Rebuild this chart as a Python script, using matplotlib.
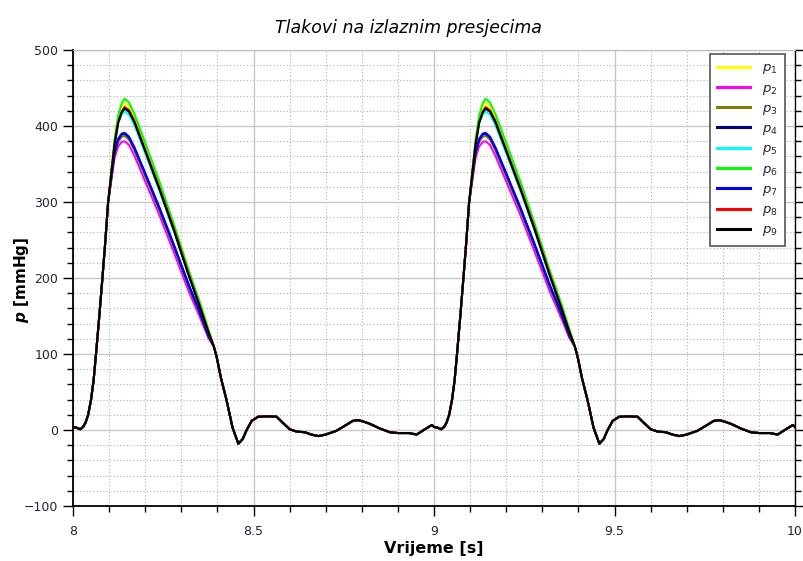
import numpy as np
import matplotlib
matplotlib.use("Agg")
import matplotlib.pyplot as plt
from matplotlib.ticker import MultipleLocator

# ---- data (one cardiac period, time relative to start of period) ----
periods = [8.0, 9.0]

t_rise = [0.000, 0.010, 0.020, 0.028, 0.035, 0.042, 0.050, 0.057, 0.063, 0.072, 0.081, 0.089, 0.097]
p_rise = [4, 3, 1, 4, 10, 20, 40, 65, 96, 145, 197, 245, 298]

t_peak = [0.105, 0.115, 0.125, 0.135, 0.143, 0.155, 0.170, 0.200, 0.240, 0.280, 0.320, 0.350, 0.375]
p1 = [334, 379, 410, 425, 430, 426, 412, 374, 323, 268, 210, 168, 132]
p2 = [325, 358, 373, 379, 380, 375, 361, 327, 282, 233, 183, 150, 121]
p3 = [327, 362, 379, 386, 387, 382, 368, 334, 288, 240, 189, 154, 123]
p4 = [328, 364, 382, 389, 390, 385, 371, 337, 291, 242, 191, 156, 124]
p5 = [332, 374, 403, 415, 419, 415, 401, 364, 314, 261, 204, 164, 128]
p6 = [335, 382, 414, 430, 436, 431, 416, 378, 326, 270, 211, 170, 133]
p7 = [329, 365, 383, 390, 391, 386, 372, 338, 292, 243, 192, 157, 125]
p8 = [333, 376, 405, 419, 425, 421, 407, 369, 318, 264, 206, 165, 129]
p9 = [333, 375, 404, 418, 423, 419, 405, 367, 316, 262, 204, 164, 129]

t_dia = [0.390, 0.398, 0.410, 0.425, 0.442, 0.458, 0.470, 0.481, 0.495, 0.513, 0.540, 0.564,
         0.580, 0.600, 0.619, 0.643, 0.660, 0.680, 0.700, 0.730, 0.758, 0.775, 0.790, 0.805,
         0.823, 0.850, 0.878, 0.900, 0.930, 0.952, 0.975, 0.994]
p_dia = [110, 96, 68, 40, 3, -18, -12, 0, 12, 17.5, 18, 17.5,
         10, 1, -2, -3, -6, -8, -6, -1, 7, 12, 13, 11,
         8, 2, -3, -4, -4, -6, 1, 6.6]
t_end = [1.000]
p_end = [4]

series = [p1, p2, p3, p4, p5, p6, p7, p8, p9]
labels = [r"$p_1$", r"$p_2$", r"$p_3$", r"$p_4$", r"$p_5$", r"$p_6$", r"$p_7$", r"$p_8$", r"$p_9$"]
colors = ["#ffff00", "#ff00ff", "#808000", "#000080", "#00ffff", "#00ff00", "#0000ff", "#ff0000", "#000000"]

# ---- figure ----
fig = plt.figure(figsize=(8.04, 5.61), dpi=100)
ax = fig.add_axes([73/804, 1-506/561, (795-73)/804, (506-50)/561])

t_one = np.array(t_rise + t_peak + t_dia)
for vals, lab, col in zip(series, labels, colors):
    v_one = np.array(p_rise + vals + p_dia)
    tt = np.concatenate([t_one + periods[0], t_one + periods[1], np.array(t_end) + periods[1]])
    vv = np.concatenate([v_one, v_one, np.array(p_end)])
    ax.plot(tt, vv, color=col, lw=1.5, label=lab, solid_joinstyle="round")

ax.set_xlim(8, 10)
ax.set_ylim(-100, 500)
ax.xaxis.set_major_locator(MultipleLocator(0.5))
ax.xaxis.set_minor_locator(MultipleLocator(0.1))
ax.yaxis.set_major_locator(MultipleLocator(100))
ax.yaxis.set_minor_locator(MultipleLocator(20))
ax.set_xticks([8, 8.5, 9, 9.5, 10])
ax.set_xticklabels(["8", "8.5", "9", "9.5", "10"])

ax.grid(which="major", color="#c8c8c8", lw=1.0, ls="-")
ax.grid(which="minor", color="#b0b0b0", lw=0.8, ls=(0, (1, 2)))
ax.set_axisbelow(True)

ax.tick_params(which="major", direction="out", length=7, width=1, labelsize=9,
               labelcolor="#22223a", right=True, top=False)
ax.tick_params(axis="x", which="major", pad=7)
ax.tick_params(which="minor", direction="out", length=4, width=1, right=True, top=False)
for s in ["left", "bottom"]:
    ax.spines[s].set_linewidth(1.3)
ax.spines["right"].set_linewidth(1.0)
ax.spines["top"].set_linewidth(0.8)
ax.spines["top"].set_color("#bbbbbb")

fig.text(408/804, 1-28/561, "Tlakovi na izlaznim presjecima", fontstyle="italic",
         fontsize=12.5, ha="center", va="center")
ax.set_xlabel("Vrijeme [s]", fontweight="bold", fontsize=11.5, labelpad=2)
ax.set_ylabel(r"$\mathbfit{p}$ [mmHg]", fontweight="bold", fontsize=11)
ax.yaxis.set_label_coords(-0.058, 0.496)

leg = ax.legend(loc="upper right", bbox_to_anchor=(1 - 10/722, 1 - 4/456), fontsize=9.5,
                frameon=True, fancybox=False, handlelength=2.5, labelspacing=0.4,
                borderpad=0.55, handletextpad=0.9, borderaxespad=0, labelcolor="#22223a")
leg.get_frame().set_edgecolor("#555555")
leg.get_frame().set_linewidth(1.2)
leg.get_frame().set_alpha(1)
for h in leg.legend_handles:
    h.set_linewidth(2.2)

fig.savefig("out.png", dpi=100)
